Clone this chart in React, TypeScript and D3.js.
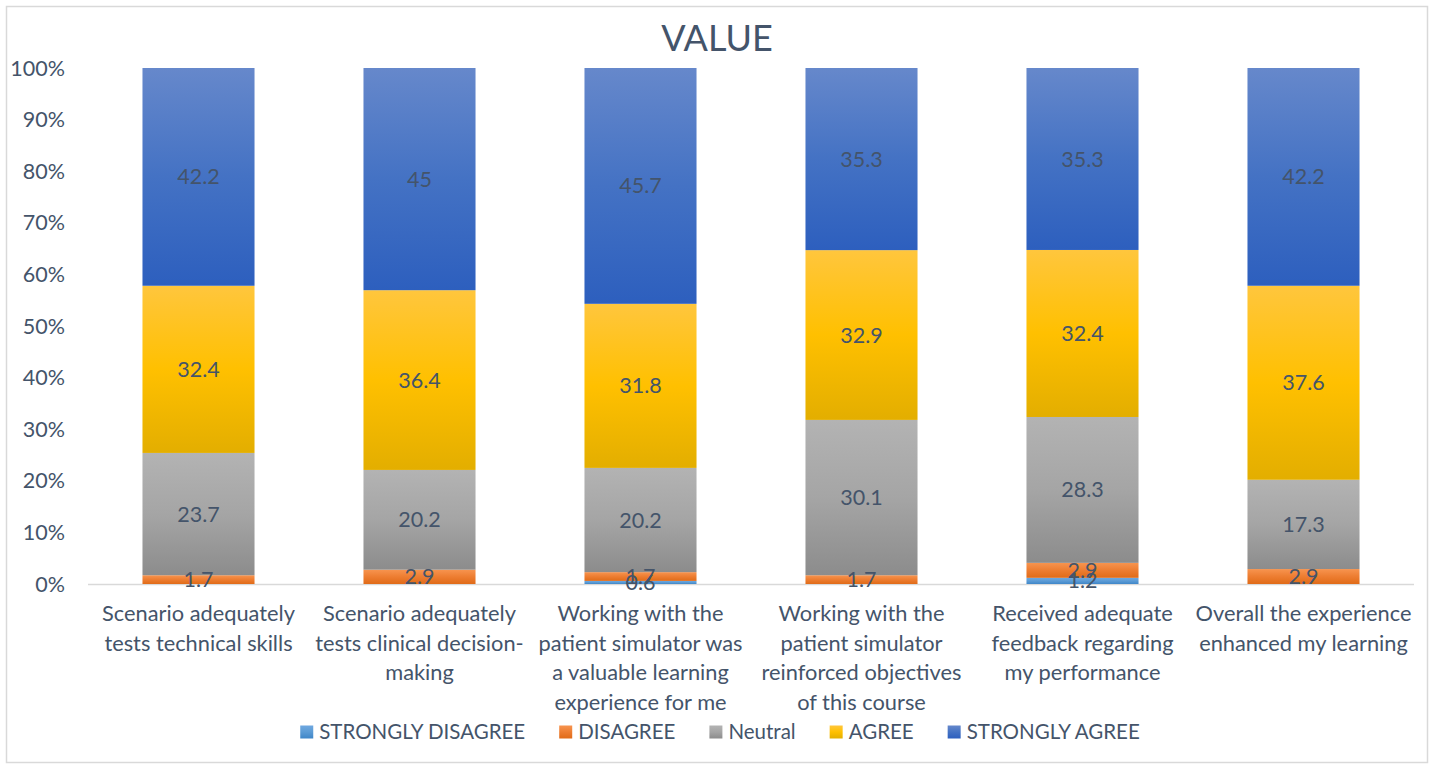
import React, { useRef, useEffect } from "react";
import * as d3 from "d3";

const categories = [
  "Scenario adequately tests technical skills",
  "Scenario adequately tests clinical decision-making",
  "Working with the patient simulator was a valuable learning experience for me",
  "Working with the patient simulator reinforced objectives of this course",
  "Received adequate feedback regarding my performance",
  "Overall the experience enhanced my learning",
];

// wrapped the way the original axis shows them
const categoryLines = [
  ["Scenario adequately", "tests technical skills"],
  ["Scenario adequately", "tests clinical decision-", "making"],
  ["Working with the", "patient simulator was", "a valuable learning", "experience for me"],
  ["Working with the", "patient simulator", "reinforced objectives", "of this course"],
  ["Received adequate", "feedback regarding", "my performance"],
  ["Overall the experience", "enhanced my learning"],
];

const seriesNames = ["STRONGLY DISAGREE", "DISAGREE", "Neutral", "AGREE", "STRONGLY AGREE"];

const stronglyDisagree = [null, null, 0.6, null, 1.2, null];
const disagree = [1.7, 2.9, 1.7, 1.7, 2.9, 2.9];
const neutral = [23.7, 20.2, 20.2, 30.1, 28.3, 17.3];
const agree = [32.4, 36.4, 31.8, 32.9, 32.4, 37.6];
const stronglyAgree = [42.2, 45, 45.7, 35.3, 35.3, 42.2];

const yTicks = [0, 0.1, 0.2, 0.3, 0.4, 0.5, 0.6, 0.7, 0.8, 0.9, 1];

// top / middle / bottom of each gradient
const gradients = [
  ["#6fa8e0", "#5b9bd5", "#3f86c8"],
  ["#f7944f", "#ed7d31", "#e06b18"],
  ["#b3b3b3", "#a5a5a5", "#8c8c8c"],
  ["#ffc63d", "#ffc000", "#e3ae00"],
  ["#6688cb", "#4472c4", "#2d5fbe"],
];

const W = 1434;
const H = 767;
const FONT = "Lato, 'Open Sans', sans-serif";
const TEXT = "#44546a";

export default function App() {
  const svgRef = useRef<SVGSVGElement>(null);

  useEffect(() => {
    const svg = d3.select(svgRef.current);
    svg.selectAll("*").remove();

    const margin = { top: 68, right: 20, bottom: 183, left: 88 };
    const plotRight = 1414;
    const plotBottom = H - margin.bottom; // 584

    const rows = categories.map((c, i) => ({
      cat: c,
      sd: stronglyDisagree[i] ?? 0,
      d: disagree[i] ?? 0,
      n: neutral[i] ?? 0,
      a: agree[i] ?? 0,
      sa: stronglyAgree[i] ?? 0,
    }));
    const keys = ["sd", "d", "n", "a", "sa"];
    const raw = [stronglyDisagree, disagree, neutral, agree, stronglyAgree];

    const stacked = d3
      .stack<any>()
      .keys(keys)
      .offset(d3.stackOffsetExpand)(rows);

    const x = d3
      .scaleBand()
      .domain(categories)
      .range([margin.left, plotRight])
      .paddingInner(0.493)
      .paddingOuter(0.2465);

    const y = d3.scaleLinear().domain([0, 1]).range([plotBottom, margin.top]);

    const defs = svg.append("defs");
    gradients.forEach((g, i) => {
      const lg = defs
        .append("linearGradient")
        .attr("id", `grad${i}`)
        .attr("x1", 0)
        .attr("y1", 0)
        .attr("x2", 0)
        .attr("y2", 1);
      lg.append("stop").attr("offset", "0%").attr("stop-color", g[0]);
      lg.append("stop").attr("offset", "50%").attr("stop-color", g[1]);
      lg.append("stop").attr("offset", "100%").attr("stop-color", g[2]);
    });

    // chart border
    svg
      .append("rect")
      .attr("x", 6.5)
      .attr("y", 6.5)
      .attr("width", 1421)
      .attr("height", 756)
      .attr("fill", "#fff")
      .attr("stroke", "#d9d9d9")
      .attr("stroke-width", 1.5);

    // title
    svg
      .append("text")
      .attr("x", 717)
      .attr("y", 51)
      .attr("text-anchor", "middle")
      .attr("font-family", FONT)
      .attr("font-size", 36)
      .attr("fill", TEXT)
      .text("VALUE");

    // y axis labels
    svg
      .append("g")
      .selectAll("text")
      .data(yTicks)
      .enter()
      .append("text")
      .attr("x", 65)
      .attr("y", (d) => y(d))
      .attr("dy", "0.35em")
      .attr("text-anchor", "end")
      .attr("font-family", FONT)
      .attr("font-size", 21.5)
      .attr("fill", TEXT)
      .text((d) => d3.format(".0%")(d));

    // baseline
    svg
      .append("line")
      .attr("x1", margin.left)
      .attr("x2", plotRight)
      .attr("y1", y(0) + 0.5)
      .attr("y2", y(0) + 0.5)
      .attr("stroke", "#d9d9d9")
      .attr("stroke-width", 1.5);

    // bars
    stacked.forEach((layer, si) => {
      svg
        .append("g")
        .selectAll("rect")
        .data(layer)
        .enter()
        .append("rect")
        .attr("x", (d: any) => x(d.data.cat)!)
        .attr("width", x.bandwidth())
        .attr("y", (d) => y(d[1]))
        .attr("height", (d) => Math.max(0, y(d[0]) - y(d[1])))
        .attr("fill", `url(#grad${si})`);
    });

    // data labels (tiny segments overlap, as in the original)
    stacked.forEach((layer, si) => {
      svg
        .append("g")
        .selectAll("text")
        .data(layer.filter((d, i) => raw[si][i] != null))
        .enter()
        .append("text")
        .attr("x", (d: any) => x(d.data.cat)! + x.bandwidth() / 2)
        .attr("y", (d) => (y(d[0]) + y(d[1])) / 2)
        .attr("dy", "0.35em")
        .attr("text-anchor", "middle")
        .attr("font-family", FONT)
        .attr("font-size", 21.5)
        .attr("fill", TEXT)
        .text((d: any) => String(d.data[keys[si]]));
    });

    // category labels
    const catG = svg.append("g");
    categories.forEach((c, i) => {
      const t = catG
        .append("text")
        .attr("x", x(c)! + x.bandwidth() / 2)
        .attr("y", 621)
        .attr("text-anchor", "middle")
        .attr("font-family", FONT)
        .attr("font-size", 21.8)
        .attr("fill", TEXT);
      categoryLines[i].forEach((line, li) => {
        t.append("tspan")
          .attr("x", x(c)! + x.bandwidth() / 2)
          .attr("dy", li === 0 ? 0 : 29.7)
          .text(line);
      });
    });

    // legend
    const leg = svg.append("g");
    const items = seriesNames.map((name, i) => {
      const g = leg.append("g");
      g.append("rect")
        .attr("width", 13)
        .attr("height", 13)
        .attr("y", -6.5)
        .attr("fill", `url(#grad${i})`);
      const t = g
        .append("text")
        .attr("x", 19)
        .attr("dy", "0.35em")
        .attr("font-family", FONT)
        .attr("font-size", 20.5)
        .attr("fill", TEXT)
        .text(name);
      const w = 19 + (t.node() as SVGTextElement).getComputedTextLength();
      return { g, w };
    });
    const gap = 34;
    const total = d3.sum(items, (d) => d.w) + gap * (items.length - 1);
    let cx = 720 - total / 2;
    items.forEach((it) => {
      it.g.attr("transform", `translate(${cx},732)`);
      cx += it.w + gap;
    });
  }, []);

  return (
    <div style={{ position: "absolute", left: 0, top: 0 }}>
      <svg ref={svgRef} width={W} height={H} style={{ display: "block" }} />
    </div>
  );
}
